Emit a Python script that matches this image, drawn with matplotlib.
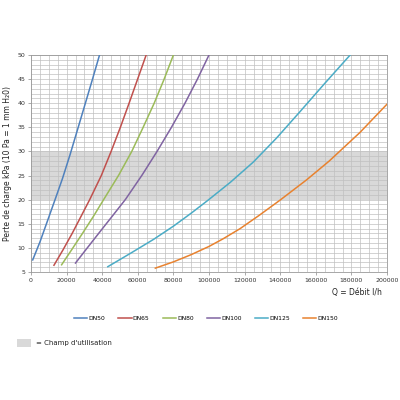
import matplotlib
matplotlib.use('agg')
import matplotlib.pyplot as plt
from matplotlib.lines import Line2D

series_names = ['DN50', 'DN65', 'DN80', 'DN100', 'DN125', 'DN150']
series_colors = ['#4F81BD', '#C0504D', '#9BBB59', '#8064A2', '#4BACC6', '#E8822F']

# debit (l/h) / perte de charge (kPa)
dn50_q = [950, 5000, 8200, 13700, 17700, 22000, 26200, 30300, 34400, 38500]
dn50_dp = [7.5, 11.2, 14.5, 20.2, 24.4, 29.4, 34.6, 39.7, 44.8, 50]
dn65_q = [12900, 18000, 23200, 28200, 33100, 39500, 45000, 50200, 55100, 59900, 64700]
dn65_dp = [6.4, 9.6, 13.05, 16.6, 20.1, 25, 30, 35, 40, 45, 50]
dn80_q = [17200, 23000, 29000, 35000, 40900, 49300, 56600, 63000, 69200, 74800, 80000]
dn80_dp = [6.5, 9.7, 13.05, 16.5, 20.07, 25.1, 30, 35, 40, 45, 50]
dn100_q = [25000, 31200, 38100, 45500, 53100, 62400, 70800, 78900, 86500, 93500, 100000]
dn100_dp = [6.86, 9.8, 13.05, 16.5, 20.07, 25.1, 30, 35, 40, 45, 50]
dn125_q = [43150, 56000, 69000, 80000, 90000, 99500, 112000, 124900, 138000, 151000, 165000, 179300]
dn125_dp = [6.1, 8.9, 11.8, 14.5, 17.2, 19.9, 23.6, 27.8, 32.8, 38.2, 44.1, 50]
dn150_q = [69850, 80000, 90000, 100000, 108000, 117500, 128000, 139900, 154800, 167500, 184700, 200000]
dn150_dp = [5.8, 7.1, 8.6, 10.3, 11.9, 14.0, 16.7, 19.9, 24.1, 28, 33.9, 39.8]

all_q = [dn50_q, dn65_q, dn80_q, dn100_q, dn125_q, dn150_q]
all_dp = [dn50_dp, dn65_dp, dn80_dp, dn100_dp, dn125_dp, dn150_dp]

band_low, band_high = 20, 30

fig = plt.figure(figsize=(4, 4), dpi=100)
ax = fig.add_axes([0.0775, 0.32, 0.89, 0.5425])

ax.axhspan(band_low, band_high, color='#d9d9d9', zorder=0, lw=0)
for q, dp, name, c in zip(all_q, all_dp, series_names, series_colors):
    ax.plot(q, dp, color=c, lw=1.1, label=name, zorder=3, solid_joinstyle='round')

ax.set_xlim(0, 200000)
ax.set_ylim(5, 50)
ax.set_xticks(range(0, 200001, 20000))
ax.set_yticks(range(5, 51, 5))
ax.set_xticks(range(0, 200001, 5000), minor=True)
ax.set_yticks(range(5, 51, 1), minor=True)
ax.grid(which='both', color='#c0c0c0', lw=0.5, zorder=1)
ax.set_axisbelow(True)
ax.tick_params(which='major', labelsize=4.5, length=2, width=0.5, colors='#888888', labelcolor='#333333', pad=2)
ax.tick_params(which='minor', length=0)
for s in ax.spines.values():
    s.set_color('#999999')
    s.set_linewidth(0.6)

ax.set_ylabel('Perte de charge kPa (10 Pa = 1 mm H₂0)', fontsize=5.5, color='#222222', labelpad=4)
fig.text(0.893, 0.27, 'Q = Débit l/h', fontsize=5.5, ha='center', va='center', color='#222222')

handles = [Line2D([0], [0], color=c, lw=1.1) for c in series_colors]
fig.legend(handles, series_names, loc='center', bbox_to_anchor=(0.515, 0.205), ncol=6,
           fontsize=4.3, frameon=False, handlelength=2.2, handletextpad=0.2, columnspacing=2.2)

fig.patches.append(plt.Rectangle((0.042, 0.133), 0.036, 0.02, transform=fig.transFigure,
                                 facecolor='#d9d9d9', edgecolor='none'))
fig.text(0.09, 0.143, '= Champ d\'utilisation', fontsize=5, va='center', color='#222222')

fig.savefig('out.png', dpi=100)
